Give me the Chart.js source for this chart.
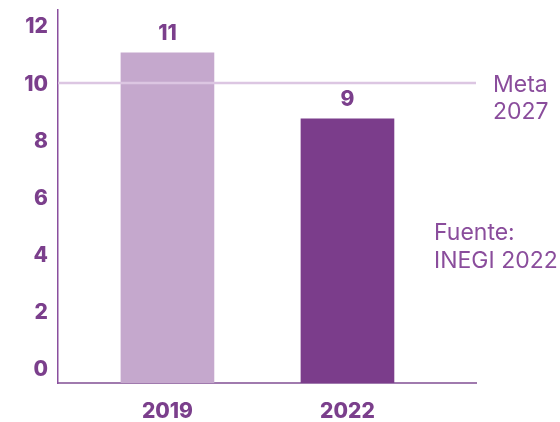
<!DOCTYPE html>
<html>
<head>
<meta charset="utf-8">
<script src="https://cdn.jsdelivr.net/npm/chart.js@4/dist/chart.umd.min.js"></script>
<style>
html,body{margin:0;padding:0;background:#fff;}
#wrap{width:560px;height:422px;position:relative;}
</style>
</head>
<body>
<div id="wrap"><canvas id="c" width="560" height="422"></canvas></div>
<script>
const categories = ['2019', '2022'];
const values = [11, 8.8];
const valueLabels = ['11', '9'];
const barColors = ['#c5a8cd', '#7b3d8b'];
const metaValue = 10;
const metaText = ['Meta', '2027'];
const sourceText = ['Fuente:', 'INEGI 2022'];
const yTickValues = [0, 2, 4, 6, 8, 10, 12];

const purple = '#7b3f8c';
const FONT = 'Inter, "Open Sans", sans-serif';

const annot = {
  id: 'annot',
  afterDatasetsDraw(chart) {
    const ctx = chart.ctx, ca = chart.chartArea, y = chart.scales.y;
    ctx.save();
    const yp = y.getPixelForValue(metaValue);
    ctx.strokeStyle = '#dcc6e2';
    ctx.lineWidth = 2.5;
    ctx.beginPath();
    ctx.moveTo(ca.left, yp);
    ctx.lineTo(ca.right, yp);
    ctx.stroke();
    const meta = chart.getDatasetMeta(0);
    ctx.fillStyle = purple;
    ctx.font = '800 21px ' + FONT;
    ctx.textAlign = 'center';
    ctx.textBaseline = 'middle';
    meta.data.forEach((bar, i) => {
      ctx.fillText(valueLabels[i], bar.x, bar.y - 19);
    });
    ctx.font = '23px ' + FONT;
    ctx.fillStyle = '#8a4d9c';
    ctx.textAlign = 'left';
    metaText.forEach((t, i) => ctx.fillText(t, ca.right + 17, yp + 2 + i * 27));
    const ys = y.getPixelForValue(5);
    sourceText.forEach((t, i) => ctx.fillText(t, ca.right - 42, ys + i * 28));
    ctx.restore();
  }
};

new Chart(document.getElementById('c'), {
  type: 'bar',
  data: {
    datasets: [{
      data: categories.map((c, i) => ({ x: i, y: values[i] })),
      backgroundColor: barColors,
      barThickness: 93,
      borderWidth: 0
    }]
  },
  options: {
    responsive: false,
    animation: false,
    events: [],
    layout: { padding: { top: 10, right: 84, left: 0, bottom: 0 } },
    plugins: { legend: { display: false }, tooltip: { enabled: false } },
    scales: {
      x: {
        type: 'linear',
        offset: false,
        min: -0.608,
        max: 1.714,
        grid: { display: false, drawTicks: false, offset: false },
        border: { display: true, color: '#a07aae', width: 2 },
        afterBuildTicks: (s) => { s.ticks = categories.map((c, i) => ({ value: i })); },
        ticks: {
          includeBounds: false,
          callback: (v) => categories[v] !== undefined ? categories[v] : '',
          color: purple,
          font: { family: FONT, size: 21, weight: '800' },
          padding: 16,
          maxRotation: 0,
          autoSkip: false
        },
        afterFit: (s) => { s.height = 39; s.paddingLeft = 0; s.paddingRight = 0; }
      },
      y: {
        min: 0,
        max: 12.43,
        display: false
      },
      yl: {
        type: 'linear',
        position: 'left',
        min: -0.455,
        max: 12.6,
        grid: { display: false, drawTicks: false },
        border: { display: true, color: '#8a4f9e', width: 1.5 },
        afterBuildTicks: (s) => { s.ticks = yTickValues.map(v => ({ value: v })); },
        ticks: {
          color: purple,
          font: { family: FONT, size: 21, weight: '800' },
          padding: 10
        },
        afterFit: (s) => { s.width = 58; s.paddingTop = 0; s.paddingBottom = 0; }
      }
    }
  },
  plugins: [annot]
});
</script>
</body>
</html>
